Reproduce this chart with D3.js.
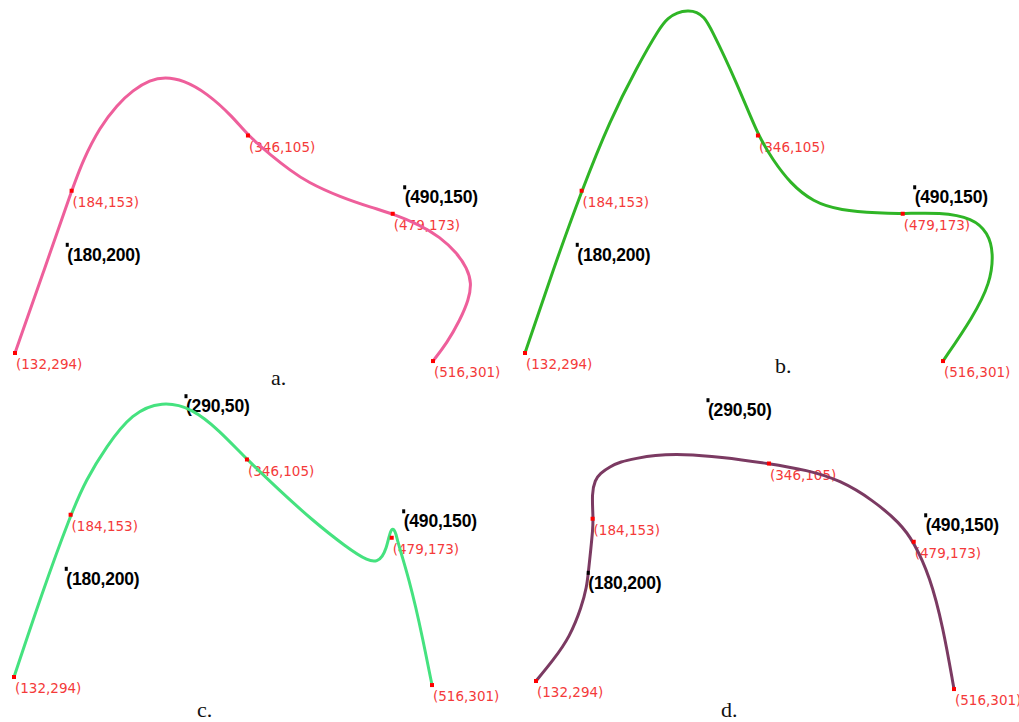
<!DOCTYPE html>
<html>
<head>
<meta charset="utf-8">
<script src="https://cdn.jsdelivr.net/npm/d3@7"></script>
<style>
  html, body { margin: 0; padding: 0; background: #fff; }
  svg { display: block; }
</style>
</head>
<body>
<svg id="chart" width="1019" height="722"></svg>
<script>
// ---- data (shared coordinate system of the figure) ----
const redPoints = [[132,294],[184,153],[346,105],[479,173],[516,301]];
const controlPointsAB = [[180,200],[490,150]];
const controlPointsCD = [[290,50],[180,200],[490,150]];
const panelNames = ["a.","b.","c.","d."];

// curves (data coordinates)
const curveA = [[132,294],[158,224],[184,153],[194.5,126.3],[210.1,97.6],[225.7,78.5],[240.4,65.5],
  [256,56.8],[269.8,54.2],[286.3,56.8],[308.4,68.1],[332.3,89],[346,105],[369,123.7],[384.6,135],
  [400.3,145.4],[430.6,158.5],[460.9,168],[479,173],[504,182.8],[522.4,193.2],[538,207.1],
  [547.3,220.2],[551.5,233.2],[548.8,248],[540.8,265.3],[528.9,285.3],[516,301]];
const curveB = [[132,294],[157.7,222],[184,153],[210.1,91.6],[234.9,45.5],[256,10.8],[263.4,2.9],
  [271.6,-1.8],[281.7,-3.6],[290,-2.3],[296.4,2.1],[302,9.9],[326.8,59.4],[346,105],[359.8,126.3],
  [375.5,146.3],[396.6,162.8],[421.4,170],[458.1,172.6],[479,173],[513.3,171.7],[543.6,176.7],
  [557.4,189.7],[562.5,207],[559.5,233.2],[543.6,262.7],[516,301]];
const curveC = [[132,294],[157.7,221],[184,153],[198.1,122.8],[216.5,94.2],[240.4,64.6],[268,54.2],
  [295.5,60.3],[320.3,79.4],[346,105],[375.5,131.5],[405.8,157.6],[437,181],[458.1,193.8],
  [465.8,193.5],[470.4,189.5],[474,182.2],[476.5,172.1],[478.6,165.3],[481.1,165.3],[483.2,170.6],
  [484.1,174.9],[488.7,189.5],[494.9,209.7],[501,232.9],[507.1,258.9],[516,301]];
const curveD = [[132,294],[147.9,275.8],[163.2,255.5],[174,229.4],[178.6,212.1],[180,200.4],
  [182.3,180.1],[184.1,162.8],[184.6,152.6],[183.2,130.9],[186.2,119.4],[190.8,113.5],[200,107.8],
  [209.2,103.5],[224.5,100.5],[239.8,97.7],[267.3,96.8],[301,99.1],[346,105],[381,110.7],
  [411.3,119.4],[441.6,136.8],[466.4,156.8],[479,173],[494,203.4],[505.9,246.8],[516,301]];

// ---- layout ----
const panels = [
  {curve: curveA, ctrl: controlPointsAB, color: "#ee5f9b", dx: 0,   dy: 0,   cap: [271, 385]},
  {curve: curveB, ctrl: controlPointsAB, color: "#2fb526", dx: 510, dy: 0,   cap: [775, 373]},
  {curve: curveC, ctrl: controlPointsCD, color: "#45e27f", dx: -1,  dy: 324, cap: [197, 717]},
  {curve: curveD, ctrl: controlPointsCD, color: "#7b3a62", dx: 521, dy: 328, cap: [721, 717]}
];

const svg = d3.select("#chart");

panels.forEach((p, i) => {
  const x = d3.scaleLinear().domain([132, 516]).range([15 + p.dx, 433 + p.dx]);
  const y = d3.scaleLinear().domain([105, 294]).range([135.5 + p.dy, 353 + p.dy]);
  const g = svg.append("g");

  // red point labels
  g.selectAll("text.red").data(redPoints).enter().append("text")
    .attr("class", "red")
    .attr("x", d => x(d[0]) + 1)
    .attr("y", d => y(d[1]) + 16)
    .attr("font-family", "DejaVu Sans, sans-serif")
    .attr("font-size", 13.5)
    .attr("fill", "#f43a3a")
    .text(d => `(${d[0]},${d[1]})`);

  // control point labels
  g.selectAll("text.ctrl").data(p.ctrl).enter().append("text")
    .attr("class", "ctrl")
    .attr("x", d => x(d[0]))
    .attr("y", d => y(d[1]) + 16)
    .attr("font-family", "Liberation Sans, Arial, sans-serif")
    .attr("font-weight", "bold")
    .attr("font-size", 17.5)
    .attr("letter-spacing", -0.2)
    .attr("fill", "#000")
    .text(d => `(${d[0]},${d[1]})`);

  // curve
  const line = d3.line().x(d => x(d[0])).y(d => y(d[1])).curve(d3.curveBasis);
  g.append("path").datum(p.curve)
    .attr("d", line)
    .attr("fill", "none")
    .attr("stroke", p.color)
    .attr("stroke-width", 3)
    .attr("stroke-linecap", "round")
    .attr("stroke-linejoin", "round");

  // markers
  g.selectAll("rect.ctrlm").data(p.ctrl).enter().append("rect")
    .attr("x", d => x(d[0]) - 1.5).attr("y", d => y(d[1]) - 2)
    .attr("width", 3).attr("height", 4).attr("fill", "#000");
  g.selectAll("rect.redm").data(redPoints).enter().append("rect")
    .attr("x", d => x(d[0]) - 2).attr("y", d => y(d[1]) - 2)
    .attr("width", 4).attr("height", 4).attr("fill", "#ff0000");

  // caption
  svg.append("text")
    .attr("x", p.cap[0]).attr("y", p.cap[1])
    .attr("font-family", "Liberation Serif, Times New Roman, serif")
    .attr("font-size", 22)
    .attr("fill", "#111")
    .text(panelNames[i]);
});
</script>
</body>
</html>
